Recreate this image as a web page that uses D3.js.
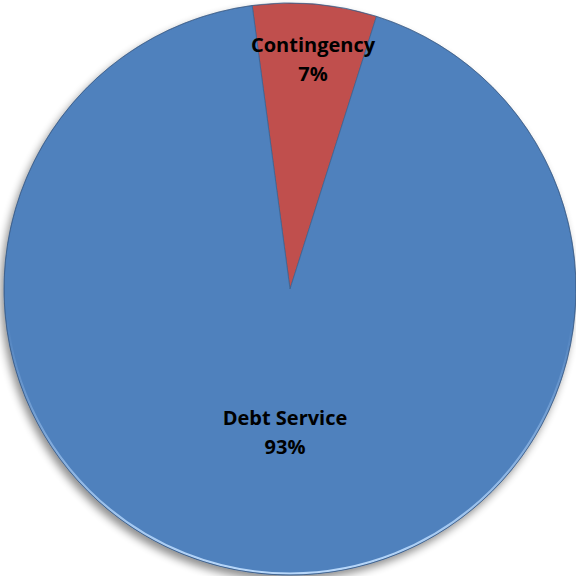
<!DOCTYPE html>
<html>
<head>
<meta charset="utf-8">
<script src="https://cdn.jsdelivr.net/npm/d3@7"></script>
<style>
  html, body { margin: 0; padding: 0; background: #fff; }
  svg { display: block; }
</style>
</head>
<body>
<svg id="chart" width="576" height="576"></svg>
<script>
// Budget share by category (percent)
const categories = ["Contingency", "Debt Service"];
const values = [7, 93];
const labels = ["7%", "93%"];
const colors = ["#C0504D", "#4F81BD"];

const width = 576, height = 576;
const cx = 290, cy = 289, radius = 286;

const svg = d3.select("#chart");
const defs = svg.append("defs");

// soft drop shadow under the pie
const shadow = defs.append("filter").attr("id", "shadow")
  .attr("x", "-20%").attr("y", "-20%").attr("width", "140%").attr("height", "140%");
shadow.append("feGaussianBlur").attr("in", "SourceAlpha").attr("stdDeviation", 4).attr("result", "blur");
shadow.append("feOffset").attr("in", "blur").attr("dx", -3).attr("dy", 5).attr("result", "off");
shadow.append("feComponentTransfer").attr("in", "off").attr("result", "soft")
  .append("feFuncA").attr("type", "linear").attr("slope", 0.45);
const merge = shadow.append("feMerge");
merge.append("feMergeNode").attr("in", "soft");
merge.append("feMergeNode").attr("in", "SourceGraphic");

// light rim along the lower edge
const rim = defs.append("linearGradient").attr("id", "rim")
  .attr("x1", 0).attr("y1", 0).attr("x2", 0).attr("y2", 1);
rim.append("stop").attr("offset", "0.55").attr("stop-color", "#9fc3ef").attr("stop-opacity", 0);
rim.append("stop").attr("offset", "0.9").attr("stop-color", "#a9cdf5").attr("stop-opacity", 0.9);
rim.append("stop").attr("offset", "1").attr("stop-color", "#b9d8fa").attr("stop-opacity", 1);

const data = categories.map((c, i) => ({ name: c, value: values[i], label: labels[i], color: colors[i] }));

const start = -7.6 * Math.PI / 180;
const pie = d3.pie().value(d => d.value).sort(null)
  .startAngle(start).endAngle(start + 2 * Math.PI);
const arcs = pie(data);

const arc = d3.arc().innerRadius(0).outerRadius(radius);

const g = svg.append("g").attr("transform", `translate(${cx},${cy})`);

const slices = g.append("g").attr("filter", "url(#shadow)");
slices.selectAll("path").data(arcs).join("path")
  .attr("d", arc)
  .attr("fill", d => d.data.color)
  .attr("stroke", "#3b5f8c")
  .attr("stroke-opacity", 0.8)
  .attr("stroke-width", 0.8);

// bevel highlight on the lower rim
g.append("circle")
  .attr("r", radius - 1.5)
  .attr("fill", "none")
  .attr("stroke", "url(#rim)")
  .attr("stroke-width", 2.2);
g.append("circle")
  .attr("r", radius)
  .attr("fill", "none")
  .attr("stroke", "#2f4f78")
  .attr("stroke-opacity", 0.6)
  .attr("stroke-width", 0.8);

// category and percent labels (baselines of the two lines)
const labelPos = {
  "Contingency": [313 - cx, 52 - cy],
  "Debt Service": [285 - cx, 425 - cy]
};
const text = g.selectAll("text.lbl").data(arcs).join("text")
  .attr("class", "lbl")
  .attr("text-anchor", "middle")
  .attr("font-family", "'Open Sans', 'Noto Sans', sans-serif")
  .attr("font-weight", "bold")
  .attr("font-size", 20)
  .attr("fill", "#000");
text.append("tspan")
  .attr("x", d => labelPos[d.data.name][0])
  .attr("y", d => labelPos[d.data.name][1])
  .text(d => d.data.name);
text.append("tspan")
  .attr("x", d => labelPos[d.data.name][0])
  .attr("y", d => labelPos[d.data.name][1] + 29)
  .text(d => d.data.label);
</script>
</body>
</html>
